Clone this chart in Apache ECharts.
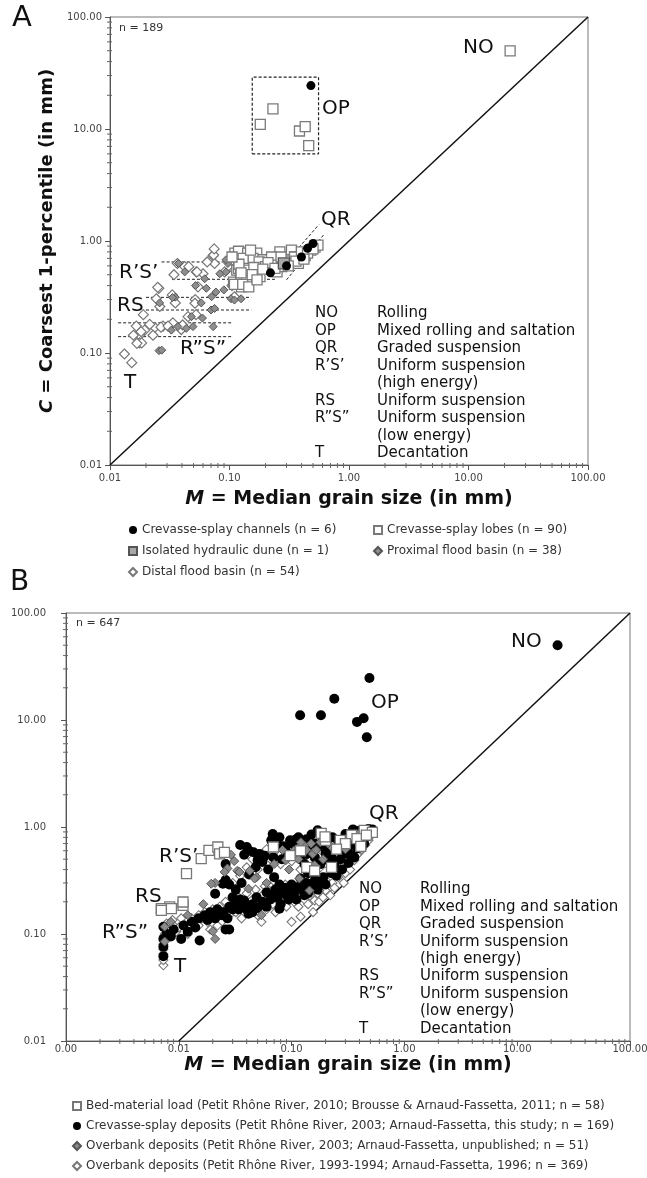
<!DOCTYPE html>
<html><head><meta charset="utf-8">
<script src="https://cdn.jsdelivr.net/npm/echarts@6/dist/echarts.min.js"></script>
<style>html,body{margin:0;padding:0;background:#fff}#c{width:647px;height:1178px}</style>
</head><body><div id="c"></div>
<script>
// ---------------- Panel A data: [M (mm), C (mm)] ----------------
const aChannels = [[0.48,24.4],[0.50,0.95],[0.45,0.86],[0.40,0.72],[0.30,0.60],[0.22,0.52]];
const aLobes = [[22.3,49.8],[0.231,15.1],[0.181,11.0],[0.385,9.6],[0.43,10.5],[0.46,7.1],
 [0.111,0.78],[0.139,0.78],[0.169,0.78],[0.144,0.61],[0.115,0.55],[0.135,0.48],[0.108,0.43],[0.186,0.68],
 [0.225,0.68],[0.264,0.80],[0.33,0.83],[0.35,0.72],[0.18,0.48],[0.25,0.53],[0.126,0.39],
 [0.119,0.81],[0.142,0.78],[0.114,0.68],[0.134,0.63],[0.157,0.70],[0.119,0.57],[0.145,0.55],[0.124,0.495],
 [0.139,0.445],[0.110,0.41],[0.129,0.41],[0.177,0.65],[0.20,0.59],[0.225,0.72],[0.234,0.61],[0.322,0.68],
 [0.35,0.72],[0.43,0.74],[0.48,0.83],[0.52,0.88],[0.377,0.63],[0.274,0.59],[0.145,0.39],
 [0.40,0.80],[0.45,0.78],[0.36,0.66],[0.29,0.66],[0.27,0.72],[0.21,0.64],[0.16,0.58],[0.13,0.70],
 [0.12,0.62],[0.155,0.50],[0.17,0.45],[0.19,0.56],[0.24,0.57],[0.31,0.60],[0.42,0.69],[0.55,0.92],
 [0.50,0.85],[0.15,0.83],[0.105,0.72],[0.125,0.52]];
const aDune = [[0.285,0.63]];
const aProximal = [[0.0422,0.53],[0.0326,0.16],[0.037,0.172],[0.0435,0.166],[0.026,0.28],[0.0352,0.315],
 [0.058,0.28],[0.070,0.242],[0.073,0.172],[0.064,0.378],[0.077,0.35],[0.103,0.305],[0.125,0.305],[0.048,0.211],
 [0.083,0.51],[0.097,0.63],[0.062,0.46],[0.0257,0.105],[0.128,0.72],[0.0935,0.53],[0.128,0.445],[0.110,0.297],
 [0.0708,0.318],[0.157,0.53],[0.171,0.61],[0.0897,0.366],[0.075,0.25],[0.0594,0.205],[0.0334,0.313],
 [0.0271,0.106],[0.0495,0.172],[0.0935,0.68],[0.0374,0.63],[0.115,0.58],[0.052,0.40],[0.145,0.66]];
const aDistal = [[0.0256,0.378],[0.0366,0.63],[0.0422,0.59],[0.0343,0.50],[0.0528,0.53],[0.060,0.51],
 [0.0728,0.74],[0.075,0.63],[0.0545,0.39],[0.0517,0.30],[0.0352,0.28],[0.0244,0.305],[0.0166,0.174],
 [0.0195,0.16],[0.0237,0.169],[0.0278,0.174],[0.0336,0.186],[0.0177,0.144],[0.0177,0.123],[0.0229,0.144],
 [0.0395,0.162],[0.045,0.211],[0.110,0.78],[0.091,0.53],[0.125,0.68],[0.0132,0.098],[0.0152,0.082],
 [0.0157,0.144],[0.0184,0.123],[0.0737,0.75],[0.065,0.65],[0.0534,0.53],[0.110,0.69],[0.110,0.55],
 [0.110,0.318],[0.105,0.40],[0.0525,0.22],[0.0251,0.386],[0.0261,0.26],[0.0267,0.17],[0.0306,0.174],
 [0.0182,0.155],[0.0168,0.122],[0.019,0.22],[0.0405,0.178],[0.0514,0.278],[0.0456,0.59],[0.0332,0.33],
 [0.0744,0.85],[0.0215,0.18]];
// dashed guide lines of panel A: [[M1,C1],[M2,C2]]
const aGuides = [
 [[0.027,0.65],[0.11,0.65]], [[0.033,0.455],[0.245,0.455]],
 [[0.020,0.314],[0.152,0.314]], [[0.020,0.242],[0.152,0.242]],
 [[0.0117,0.186],[0.104,0.186]], [[0.0117,0.14],[0.104,0.14]],
 [[0.26,0.55],[0.56,1.40]], [[0.30,0.45],[0.62,1.15]]];
const aOPBox = [[0.155,6.0],[0.556,6.0],[0.556,29.1],[0.155,29.1],[0.155,6.0]];

// ---------------- Panel B data ----------------
const bBed = [[0.0158,0.507],[0.0185,0.606],[0.0222,0.65],[0.0230,0.56],[0.0254,0.58],[0.0117,0.367],
 [0.0109,0.185],[0.0083,0.179],[0.0070,0.173],[0.0109,0.199],[0.0086,0.173],[0.0070,0.166],[0.183,0.87],
 [0.20,0.75],[0.198,0.81],[0.069,0.65],[0.44,0.93],[0.52,0.89],[0.34,0.84],[0.27,0.75],[0.097,0.54],
 [0.136,0.42],[0.16,0.39],[0.226,0.42],[0.30,0.70],[0.38,0.78],[0.25,0.62],[0.12,0.60],[0.41,0.66],[0.46,0.84]];
const bCrevasse = [[0.119,11.07],[0.182,11.07],[0.239,15.8],[0.38,9.6],[0.435,10.4],[0.464,6.9],[0.49,24.7],[22.8,49.9],
 [0.040,0.65],[0.046,0.58],[0.052,0.56],[0.058,0.54],[0.069,0.52],[0.082,0.50],[0.097,0.75],[0.11,0.77],
 [0.115,0.80],[0.136,0.77],[0.16,0.70],[0.19,0.65],[0.226,0.60],[0.268,0.60],[0.317,0.65],[0.376,0.75],
 [0.445,0.87],[0.51,0.93],[0.41,0.81],[0.34,0.70],[0.29,0.56],[0.226,0.52],[0.161,0.52],[0.136,0.56],
 [0.115,0.54],[0.089,0.60],[0.066,0.75],[0.075,0.77],
 [0.035,0.68],[0.042,0.60],[0.050,0.49],[0.038,0.55],[0.068,0.86],[0.078,0.80],[0.085,0.66],[0.10,0.70],
 [0.11,0.62],[0.12,0.50],[0.13,0.45],[0.14,0.66],[0.15,0.85],[0.17,0.93],[0.19,0.78],[0.20,0.57],
 [0.23,0.80],[0.26,0.72],[0.30,0.86],[0.35,0.95],[0.40,0.92],[0.44,0.70],[0.38,0.63],[0.31,0.76],
 [0.48,0.96],[0.52,0.95],[0.36,0.88],[0.28,0.66],
 [0.026,0.45],[0.026,0.32],[0.028,0.29],[0.021,0.238],[0.030,0.22],[0.038,0.206],[0.049,0.22],[0.060,0.245],
 [0.082,0.25],[0.097,0.25],[0.115,0.275],[0.136,0.30],[0.161,0.32],[0.191,0.34],[0.226,0.37],
 [0.035,0.21],[0.045,0.19],[0.055,0.20],[0.065,0.21],[0.075,0.22],[0.09,0.23],[0.105,0.24],[0.125,0.26],
 [0.15,0.28],[0.175,0.30],[0.04,0.17],[0.06,0.18],[0.08,0.19],[0.11,0.21],[0.14,0.24],[0.17,0.26],
 [0.20,0.29],[0.25,0.35],[0.28,0.40],[0.32,0.46],[0.36,0.52],
 [0.011,0.12],[0.013,0.13],[0.015,0.14],[0.017,0.15],[0.019,0.16],[0.022,0.17],[0.025,0.16],[0.028,0.18],
 [0.032,0.19],[0.012,0.105],[0.014,0.115],[0.018,0.135],[0.021,0.14],[0.024,0.15],[0.027,0.14],[0.030,0.17],
 [0.034,0.17],[0.038,0.18],[0.045,0.16],[0.0153,0.087],[0.028,0.11],[0.0246,0.295],[0.0073,0.117],
 [0.026,0.11],[0.078,0.172],[0.0415,0.155],[0.0073,0.076],[0.0073,0.062],[0.0073,0.09],[0.0078,0.10],
 [0.009,0.11],[0.0085,0.095],[0.0105,0.09],[0.05,0.175],[0.055,0.19],
 [0.032,0.26],[0.036,0.30],[0.042,0.36],[0.048,0.42],[0.055,0.47],[0.062,0.40],[0.07,0.34],[0.078,0.29],
 [0.088,0.27],[0.10,0.29],[0.12,0.33],[0.14,0.37],[0.16,0.41],[0.18,0.45],[0.21,0.49],[0.24,0.45],
 [0.27,0.50],[0.33,0.55],[0.43,0.78],[0.47,0.82],[0.066,0.23],[0.072,0.26],[0.094,0.21],[0.13,0.23]];
const bOver2003 = [[0.027,0.41],[0.021,0.30],[0.033,0.39],[0.049,0.34],[0.0415,0.265],[0.054,0.15],[0.021,0.09],
 [0.105,0.60],[0.115,0.50],[0.13,0.67],[0.154,0.56],[0.18,0.72],[0.226,0.65],[0.268,0.72],[0.34,0.81],
 [0.0425,0.39],[0.047,0.33],[0.089,0.49],[0.106,0.56],[0.135,0.61],[0.121,0.72],[0.149,0.70],[0.165,0.61],
 [0.21,0.70],[0.305,0.75],[0.35,0.83],[0.117,0.33],[0.083,0.61],[0.144,0.255],[0.0194,0.295],[0.0255,0.38],
 [0.0345,0.38],[0.020,0.106],[0.0075,0.117],[0.39,0.86],[0.45,0.90],[0.25,0.60],[0.19,0.50],[0.07,0.45],
 [0.06,0.30],[0.031,0.48],[0.0165,0.19],[0.012,0.15],[0.0085,0.13],[0.0075,0.085],[0.029,0.55],[0.30,0.62],
 [0.20,0.80],[0.095,0.40],[0.16,0.44]];
const bOver1993 = [[0.0073,0.051],[0.0073,0.057],[0.0073,0.065],[0.0073,0.072],[0.0073,0.08],[0.0075,0.09],
 [0.0075,0.10],[0.0076,0.11],[0.0075,0.12],[0.0078,0.125],
 [0.0085,0.11],[0.009,0.12],[0.0095,0.105],[0.010,0.115],[0.011,0.125],[0.012,0.12],[0.013,0.14],[0.014,0.13],
 [0.015,0.15],[0.016,0.14],[0.017,0.16],[0.018,0.13],[0.019,0.15],[0.020,0.17],[0.022,0.15],[0.023,0.18],
 [0.024,0.13],[0.026,0.16],[0.028,0.15],[0.030,0.20],[0.032,0.16],[0.034,0.22],[0.036,0.14],[0.022,0.12],
 [0.026,0.20],[0.012,0.10],[0.0105,0.14],[0.015,0.12],[0.019,0.11],[0.0088,0.135],
 [0.038,0.19],[0.04,0.24],[0.042,0.17],[0.045,0.21],[0.048,0.26],[0.05,0.15],[0.052,0.19],[0.055,0.23],
 [0.058,0.28],[0.06,0.17],[0.062,0.21],[0.065,0.25],[0.068,0.19],[0.07,0.31],[0.072,0.16],[0.075,0.23],
 [0.078,0.27],[0.08,0.20],[0.085,0.24],[0.088,0.29],[0.09,0.18],[0.095,0.22],[0.10,0.26],[0.105,0.20],
 [0.11,0.24],[0.115,0.18],[0.12,0.22],[0.125,0.30],[0.13,0.21],[0.135,0.26],[0.14,0.19],[0.145,0.23],
 [0.15,0.28],[0.155,0.16],[0.16,0.206],[0.165,0.34],[0.17,0.24],[0.175,0.20],[0.18,0.27],[0.19,0.22],
 [0.20,0.32],[0.21,0.26],[0.22,0.23],[0.23,0.30],[0.25,0.39],[0.28,0.42],[0.26,0.34],[0.30,0.37],
 [0.32,0.45],[0.34,0.50],[0.36,0.49],[0.40,0.58],[0.38,0.55],[0.42,0.62],[0.45,0.68],[0.48,0.75],
 [0.50,0.82],[0.29,0.30],[0.33,0.40],[0.24,0.27],[0.20,0.255],[0.176,0.255],[0.096,0.206],[0.068,0.255],
 [0.03,0.30],[0.035,0.35],[0.04,0.42],[0.045,0.50],[0.05,0.40],[0.055,0.55],[0.06,0.62],[0.065,0.50],
 [0.07,0.58],[0.08,0.45],[0.09,0.55],[0.10,0.48],[0.11,0.68],[0.12,0.40],[0.13,0.52],[0.14,0.43],
 [0.15,0.60],[0.16,0.50],[0.17,0.66],[0.18,0.42],[0.19,0.58],[0.20,0.46],[0.22,0.55],[0.24,0.48],
 [0.26,0.62],[0.28,0.52],[0.30,0.68],[0.33,0.58],[0.36,0.70],[0.40,0.75],[0.44,0.80],[0.47,0.88],
 [0.054,0.13],[0.10,0.13],[0.12,0.145]];
const diagonal = [[0.01,0.01],[100,100]];

const zoneCodes = ['NO','OP','QR','R\u2019S\u2019','','RS','R\u201DS\u201D','','T'];
const zoneDescs = ['Rolling','Mixed rolling and saltation','Graded suspension','Uniform suspension','(high energy)',
 'Uniform suspension','Uniform suspension','(low energy)','Decantation'];
const legendA = ['Crevasse-splay channels (n = 6)','Crevasse-splay lobes (n = 90)','Isolated hydraulic dune (n = 1)',
 'Proximal flood basin (n = 38)','Distal flood basin (n = 54)'];
const legendB = ['Bed-material load (Petit Rh\u00f4ne River, 2010; Brousse & Arnaud-Fassetta, 2011; n = 58)',
 'Crevasse-splay deposits (Petit Rh\u00f4ne River, 2003; Arnaud-Fassetta, this study; n = 169)',
 'Overbank deposits (Petit Rh\u00f4ne River, 2003; Arnaud-Fassetta, unpublished; n = 51)',
 'Overbank deposits (Petit Rh\u00f4ne River, 1993-1994; Arnaud-Fassetta, 1996; n = 369)'];

// ---------------- rendering ----------------
const FONT = 'DejaVu Sans';
const chart = echarts.init(document.getElementById('c'), null, {renderer:'canvas'});

function minorVals(lo, hi){ const o=[]; for(let e=lo;e<hi;e++){ for(let m=2;m<=9;m++) o.push(+(m*Math.pow(10,e)).toPrecision(3)); } return o; }

function axisBase(min, max, labelMargin){
  return {type:'log', logBase:10, min:min, max:max,
    axisLine:{show:true, lineStyle:{color:'#555', width:1}},
    axisTick:{show:true, length:5, lineStyle:{color:'#555'}},
    splitLine:{show:false},
    axisLabel:{fontFamily:FONT, fontSize:10, color:'#444', margin:labelMargin, formatter:v=>Number(v).toFixed(2)}};
}
function nameStyle(sz){
  return {fontFamily:FONT, fontSize:sz, fontWeight:'bold', color:'#111',
    rich:{i:{fontFamily:FONT, fontSize:sz, fontWeight:'bold', fontStyle:'italic', color:'#111'}}};
}

function tickSeries(gi, vals, isX, yMin, xMin){
  return {type:'custom', xAxisIndex:gi, yAxisIndex:gi, silent:true, clip:false, z:1,
    data: vals.map(v => isX ? [v, yMin] : [xMin, v]),
    renderItem:(p, api) => {
      const pt = api.coord([api.value(0), api.value(1)]);
      const shape = isX ? {x1:pt[0], y1:pt[1]-2, x2:pt[0], y2:pt[1]+3} : {x1:pt[0]-3, y1:pt[1], x2:pt[0]+2, y2:pt[1]};
      return {type:'line', shape:shape, style:{stroke:'#666', lineWidth:1}};
    }};
}
function guide(gi, pts, w){
  return {type:'line', xAxisIndex:gi, yAxisIndex:gi, data:pts, symbol:'none', silent:true, z:1,
    lineStyle:{color:'#222', width:w||1, type:[3,2]}};
}
function scatter(gi, name, data, sym, size, fill, border, bw, z){
  return {type:'scatter', name:name, xAxisIndex:gi, yAxisIndex:gi, data:data, symbol:sym, symbolSize:size, z:z,
    itemStyle:{color:fill, borderColor:border, borderWidth:bw, opacity:1}};
}

const series = [];
// Panel A
aGuides.forEach(g => series.push(guide(0, g)));
series.push(guide(0, aOPBox, 1.2));
series.push({type:'line', xAxisIndex:0, yAxisIndex:0, data:diagonal, symbol:'none', silent:true, z:2,
  lineStyle:{color:'#111', width:1.5}});
series.push(scatter(0, legendA[4], aDistal, 'diamond', 10, '#fff', '#777', 1.2, 3));
series.push(scatter(0, legendA[3], aProximal, 'diamond', 8, '#8e8e8e', '#555', 1, 4));
series.push(scatter(0, legendA[1], aLobes, 'rect', 10, '#fff', '#7a7a7a', 1.3, 5));
series.push(scatter(0, legendA[2], aDune, 'rect', 11, '#a8a8a8', '#555', 1.3, 6));
series.push(scatter(0, legendA[0], aChannels, 'circle', 9, '#000', '#000', 0, 7));
series.push(tickSeries(0, minorVals(-2,2), true, 0.01, 0.01));
series.push(tickSeries(0, minorVals(-2,2), false, 0.01, 0.01));
// Panel B
series.push({type:'line', xAxisIndex:1, yAxisIndex:1, data:diagonal, symbol:'none', silent:true, z:2,
  lineStyle:{color:'#111', width:1.5}});
series.push(scatter(1, legendB[3], bOver1993, 'diamond', 9, '#fff', '#777', 1.1, 3));
series.push(scatter(1, legendB[1], bCrevasse, 'circle', 10, '#000', '#000', 0, 4));
series.push(scatter(1, legendB[2], bOver2003, 'diamond', 9, '#8a8a8a', '#555', 1, 5));
series.push(scatter(1, legendB[0], bBed, 'rect', 10, '#fff', '#777', 1.3, 6));
series.push(tickSeries(1, minorVals(-3,2), true, 0.01, 0.001));
series.push(tickSeries(1, minorVals(-2,2), false, 0.01, 0.001));

function txt(s, x, y, size, color){
  return {type:'text', x:x, y:y, silent:true,
    style:{text:s, font:(size)+'px "'+FONT+'"', fill:color||'#111', verticalAlign:'middle', align:'left'}};
}
const graphics = [];
graphics.push(txt('A', 12, 18, 29, '#111'));
graphics.push(txt('B', 10, 583, 28, '#111'));
graphics.push(txt('n = 189', 119, 28, 11, '#333'));
graphics.push(txt('n = 647', 76, 623, 11, '#333'));
[['NO',463,48],['OP',322,109],['QR',321,220],['R\u2019S\u2019',119,273],['RS',117,306],['R\u201DS\u201D',180,349],['T',124,383]]
  .forEach(d => graphics.push(txt(d[0], d[1], d[2], 20)));
[['NO',511,642],['OP',371,703],['QR',369,814],['R\u2019S\u2019',159,857],['RS',135,897],['R\u201DS\u201D',102,933],['T',174,967]]
  .forEach(d => graphics.push(txt(d[0], d[1], d[2], 20)));
zoneCodes.forEach((c,i) => { if(c) graphics.push(txt(c, 315, 313.3 + i*17.5, 15)); });
zoneDescs.forEach((c,i) => graphics.push(txt(c, 377, 313.3 + i*17.5, 15)));
zoneCodes.forEach((c,i) => { if(c) graphics.push(txt(c, 359, 889.3 + i*17.45, 15)); });
zoneDescs.forEach((c,i) => graphics.push(txt(c, 420, 889.3 + i*17.45, 15)));

const legendText = {fontFamily:FONT, fontSize:12, color:'#333', lineHeight:14};
const legendCommon = {orient:'vertical', padding:0, itemWidth:8, itemHeight:8, textStyle:legendText, selectedMode:false, height:200};
const option = {
  animation:false,
  backgroundColor:'#fff',
  grid:[
    {left:110, top:17, width:478, height:448, show:true, borderColor:'#777', borderWidth:1, backgroundColor:'transparent', containLabel:false, outerBoundsMode:'none'},
    {left:66, top:613, width:564, height:428, show:true, borderColor:'#777', borderWidth:1, backgroundColor:'transparent', containLabel:false, outerBoundsMode:'none'}
  ],
  xAxis:[
    Object.assign(axisBase(0.01,100,8), {gridIndex:0, name:'{i|M} = Median grain size (in mm)', nameLocation:'middle', nameGap:25, nameTextStyle:nameStyle(19)}),
    Object.assign(axisBase(0.001,100,3), {gridIndex:1, name:'{i|M} = Median grain size (in mm)', nameLocation:'middle', nameGap:15, nameTextStyle:nameStyle(19)})
  ],
  yAxis:[
    Object.assign(axisBase(0.01,100,8), {gridIndex:0, name:'{i|C} = Coarsest 1-percentile (in mm)', nameLocation:'middle', nameGap:36, nameRotate:90, nameTextStyle:nameStyle(18)}),
    Object.assign(axisBase(0.01,100,20), {gridIndex:1, name:'{i|C} = Coarsest 1-percentile (in mm)', nameLocation:'middle', nameGap:46, nameRotate:90, nameTextStyle:nameStyle(18)})
  ],
  legend:[
    Object.assign({data:[legendA[0], legendA[2], legendA[4]], left:128, top:523, itemGap:7}, legendCommon),
    Object.assign({data:[legendA[1], legendA[3]], left:373, top:523, itemGap:7}, legendCommon),
    Object.assign({data:legendB, left:72, top:1099, itemGap:6}, legendCommon)
  ],
  graphic:graphics,
  series:series
};
chart.setOption(option);
</script></body></html>
